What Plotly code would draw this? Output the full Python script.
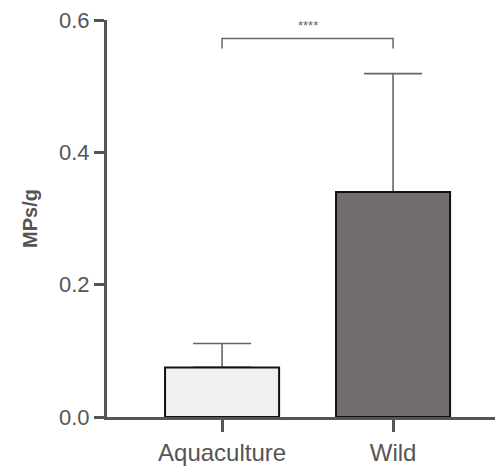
import plotly.graph_objects as go

categories = ["Aquaculture", "Wild"]
means = [0.075, 0.340]
sd_upper = [0.036, 0.179]
fills = ["#f0f0f0", "#716d6c"]
y_ticks = [0.0, 0.2, 0.4, 0.6]
y_tick_labels = ["0.0", "0.2", "0.4", "0.6"]
sig_label = "****"
sig_y = 0.572

fig = go.Figure()
# error bars (drawn first, so the bar outline covers the lower cap)
fig.add_trace(go.Bar(
    x=categories, y=means, width=0.667,
    marker=dict(color="rgba(0,0,0,0)", line=dict(width=0)),
    error_y=dict(type="data", symmetric=False, array=sd_upper,
                 arrayminus=[0, 0], color="#666666", thickness=1.6, width=29),
    showlegend=False, hoverinfo="skip",
))
fig.add_trace(go.Bar(
    x=categories, y=means, width=0.667,
    marker=dict(color=fills, line=dict(color="#111111", width=2)),
    showlegend=False,
))

# significance bracket
fig.add_shape(type="path",
              path=f"M 0,{sig_y-0.015} L 0,{sig_y} L 1,{sig_y} L 1,{sig_y-0.015}",
              xref="x", yref="y", line=dict(color="#666666", width=1.5))
fig.add_annotation(x=0.5, y=sig_y + 0.006, xref="x", yref="y", text=sig_label,
                   showarrow=False, yanchor="bottom",
                   font=dict(size=13, color="#666666", family="Liberation Sans, Arial"))

axis_color = "#555555"
fig.update_layout(
    width=495, height=458,
    margin=dict(l=99, r=0, t=12, b=49),
    plot_bgcolor="white", paper_bgcolor="white",
    barmode="overlay",
    font=dict(family="Liberation Sans, Arial", color=axis_color, size=18),
    xaxis=dict(range=[-0.673, 1.643], showline=True, linecolor=axis_color, linewidth=3,
               ticks="outside", ticklen=12, tickwidth=3, tickcolor=axis_color,
               showgrid=False, zeroline=False, automargin=False,
               ticklabeloverflow="allow", tickfont=dict(size=24)),
    yaxis=dict(range=[0, 0.6], showline=True, linecolor=axis_color, linewidth=3,
               ticks="outside", ticklen=10, tickwidth=3, tickcolor=axis_color,
               tickvals=y_ticks, ticktext=y_tick_labels,
               showgrid=False, zeroline=False, automargin=False,
               ticklabeloverflow="allow", tickfont=dict(size=22),
               title=dict(text="<b>MPs/g</b>", font=dict(size=20), standoff=17)),
)

fig.write_html("out.html")
